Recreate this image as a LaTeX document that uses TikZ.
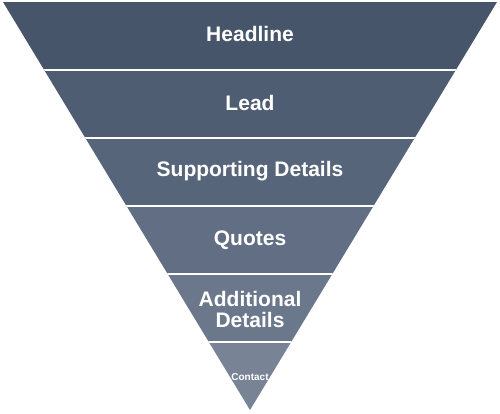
\documentclass[tikz,border=0pt]{standalone}
\usepackage{fontspec}
\setmainfont{Liberation Sans}
\definecolor{bandA}{HTML}{465569}
\definecolor{bandB}{HTML}{4E5D72}
\definecolor{bandC}{HTML}{57657A}
\definecolor{bandD}{HTML}{616E83}
\definecolor{bandE}{HTML}{6B788C}
\definecolor{bandF}{HTML}{788396}
\tikzset{
  lbl/.style={text=white,font=\fontsize{21}{23}\selectfont\bfseries,align=center,inner sep=0pt},
  small/.style={text=white,font=\fontsize{10}{12}\selectfont\bfseries,inner sep=0pt},
  divider/.style={white,line width=2pt}
}
\begin{document}
\begin{tikzpicture}[x=1pt,y=-1pt]
\useasboundingbox (0,0) rectangle (500,413);
\coordinate (TL) at (3,2);
\coordinate (TR) at (497,2);
\coordinate (AP) at (250,410);
\begin{scope}
\clip (TL) -- (TR) -- (AP) -- cycle;
\fill[bandA] (0,0) rectangle (500,70);
\fill[bandB] (0,70) rectangle (500,138);
\fill[bandC] (0,138) rectangle (500,206);
\fill[bandD] (0,206) rectangle (500,274);
\fill[bandE] (0,274) rectangle (500,342);
\fill[bandF] (0,342) rectangle (500,413);
\draw[divider] (0,70) -- (500,70);
\draw[divider] (0,138) -- (500,138);
\draw[divider] (0,206) -- (500,206);
\draw[divider] (0,274) -- (500,274);
\draw[divider] (0,342) -- (500,342);
\end{scope}
\node[lbl] (headline) at (250,34) {Headline};
\node[lbl] (lead) at (250,103) {Lead};
\node[lbl] (supporting) at (250,171) {Supporting Details};
\node[lbl] (quotes) at (250,240) {Quotes};
\node[lbl] (additional) at (250,309) {Additional\\[-2pt]Details};
\node[small] (contact) at (250,377) {Contact};
\end{tikzpicture}
\end{document}
